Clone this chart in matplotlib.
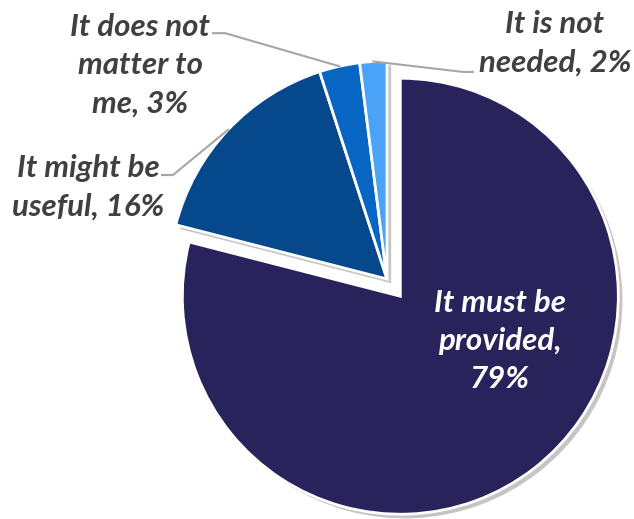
import numpy as np
import matplotlib.pyplot as plt
import matplotlib.patheffects as pe

labels = ["It must be\nprovided,\n79%", "It might be\nuseful, 16%",
          "It does not\nmatter to\nme, 3%", "It is not\nneeded, 2%"]
values = [79, 16, 3, 2]
colors = ["#29235C", "#05498C", "#0766C4", "#4BA3F7"]
explode = [0.1, 0, 0, 0]

fig = plt.figure(figsize=(6.34, 5.19), dpi=100)
ax = fig.add_axes([0, 0, 1, 1])

wedges, _ = ax.pie(values, colors=colors, explode=explode, startangle=90,
                   counterclock=False, radius=1.0,
                   wedgeprops=dict(edgecolor="white", linewidth=2))
for w in wedges:
    w.set_path_effects([pe.withSimplePatchShadow(offset=(3, -3), shadow_rgbFace="#7f7f7f", alpha=0.45)])

ax.set_xlim(-1.775, 1.133)
ax.set_ylim(-1.101, 1.280)
ax.set_aspect("equal")
ax.axis("off")

font = dict(family=["Lato", "DejaVu Sans"], fontweight="bold", fontstyle="italic",
            fontsize=22.5, linespacing=1.45)

# main label, inside
ax.text(0.518, -0.284, labels[0], color="white", ha="center", va="center", **font)

# outside labels: text position, bend, line end
outside = [
    (1, (-1.372, 0.422), (-0.982, 0.477), (-1.032, 0.477)),
    (2, (-1.133, 0.982), (-0.743, 1.128), (-0.798, 1.128)),
    (3, (0.771, 1.083), (0.349, 0.950), (0.394, 0.950)),
]
for i, tpos, bend, end in outside:
    w = wedges[i]
    mid = np.deg2rad((w.theta1 + w.theta2) / 2)
    px, py = np.cos(mid), np.sin(mid)
    ax.plot([px, bend[0], end[0]], [py, bend[1], end[1]], color="#A6A6A6", lw=1.5)
    ax.text(tpos[0], tpos[1], labels[i], color="#404040", ha="center", va="center", **font)

fig.savefig("out.png", dpi=100)
